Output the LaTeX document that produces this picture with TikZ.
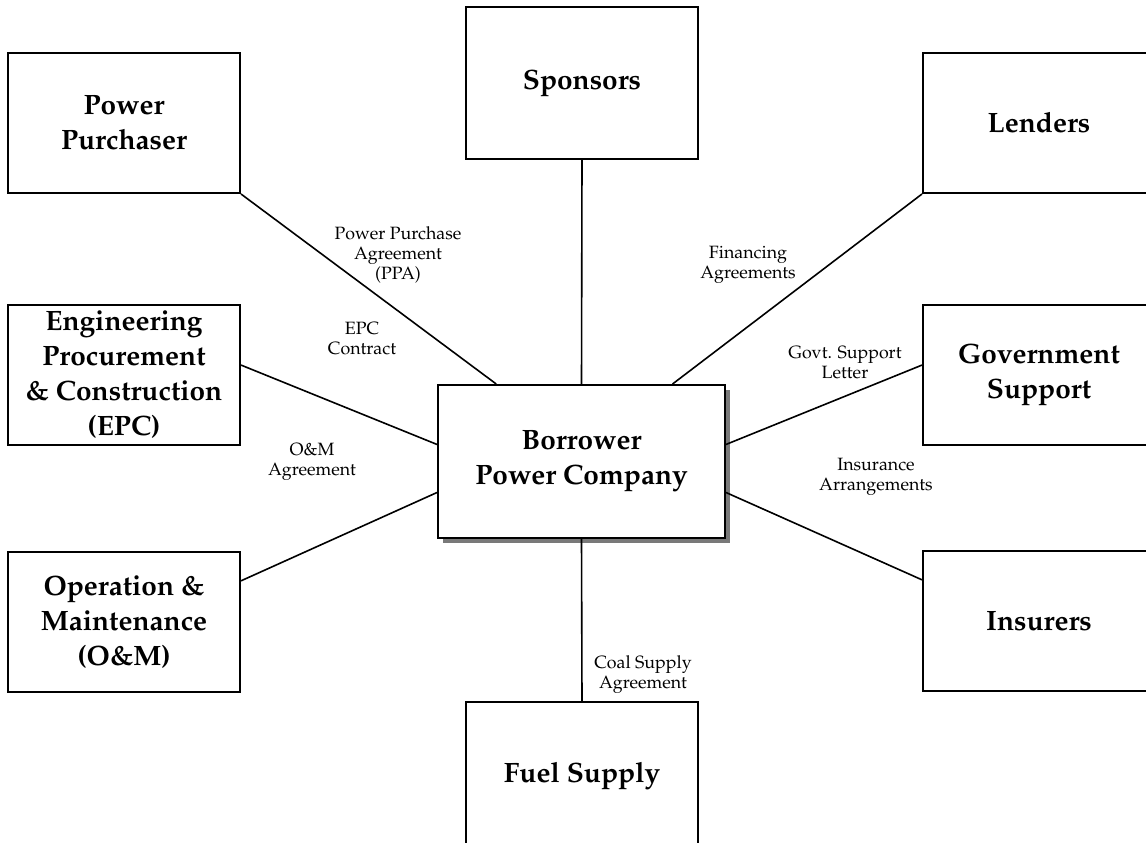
\documentclass[tikz,border=0pt]{standalone}
\usepackage[T1]{fontenc}
\usepackage{mathpazo}
\usetikzlibrary{shadows,calc}

\tikzset{
  party/.style={draw, line width=1pt, minimum width=116pt, minimum height=70pt,
    inner sep=0pt, align=center, font=\fontsize{14}{17.5}\selectfont\bfseries},
  deal/.style={inner sep=0pt, align=center, font=\fontsize{8.9}{10}\selectfont},
  link/.style={line width=0.8pt}
}

\begin{document}
\begin{tikzpicture}[x=0.5pt, y=-0.5pt]
  \useasboundingbox (0,0) rectangle (1146,842);
  \clip (0,0) rectangle (1146,842);

  % the parties round the project company
  \node[party] (pp) at (124,123) {Power\\Purchaser};
  \node[party, minimum height=76pt] (sponsors) at (582,83) {Sponsors};
  \node[party] (lenders) at (1039,123) {Lenders};
  \node[party] (epc) at (124,375) {Engineering\\Procurement\\\& Construction\\(EPC)};
  \node[party] (gov) at (1039,375) {Government\\Support};
  \node[party] (om) at (124,622) {Operation \&\\Maintenance\\(O\&M)};
  \node[party] (insurers) at (1039,621) {Insurers};
  \node[party, minimum height=74pt] (fuel) at (582,776) {\raisebox{2pt}{Fuel Supply}};

  % project company in the middle
  \node[party, fill=white, minimum width=143.5pt, minimum height=76.5pt,
    drop shadow={shadow xshift=2.5pt, shadow yshift=-2.5pt, fill=gray!95!black, opacity=1}]
    (borrower) at (581.5,461.5) {Borrower\\Power Company};

  % contracts
  \draw[link] (pp.south east) -- ($(borrower.north west)!0.205!(borrower.north east)$);
  \draw[link] (sponsors.south) -- (borrower.north);
  \draw[link] (lenders.south west) -- ($(borrower.north west)!0.815!(borrower.north east)$);
  \draw[link] ($(epc.north east)!0.43!(epc.south east)$) -- ($(borrower.north west)!0.39!(borrower.south west)$);
  \draw[link] ($(gov.north west)!0.43!(gov.south west)$) -- ($(borrower.north east)!0.39!(borrower.south east)$);
  \draw[link] ($(om.north east)!0.21!(om.south east)$) -- ($(borrower.north west)!0.7!(borrower.south west)$);
  \draw[link] ($(insurers.north west)!0.21!(insurers.south west)$) -- ($(borrower.north east)!0.7!(borrower.south east)$);
  \draw[link] (borrower.south) -- (fuel.north);

  % contract labels
  \node[deal] (ppa) at (398,255) {Power Purchase\\Agreement\\(PPA)};
  \node[deal] (epcdeal) at (362,339) {EPC\\Contract};
  \node[deal] (omdeal) at (312,462) {O\&M\\Agreement};
  \node[deal] (findeal) at (748,265) {Financing\\Agreements};
  \node[deal] (govdeal) at (845,363) {Govt. Support\\Letter};
  \node[deal] (insdeal) at (876,477) {Insurance\\Arrangements};
  \node[deal] (coaldeal) at (643,675) {Coal Supply\\Agreement};
\end{tikzpicture}
\end{document}
